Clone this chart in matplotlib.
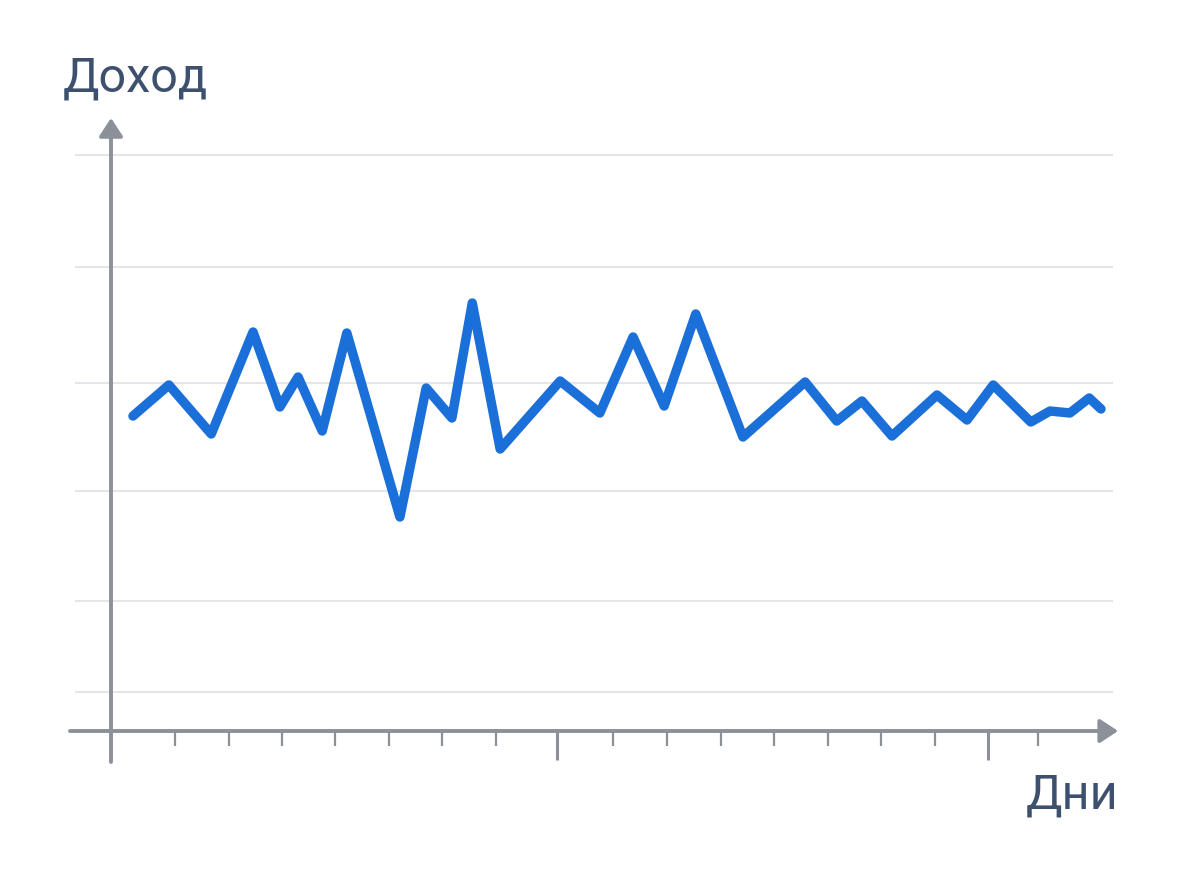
import matplotlib.pyplot as plt

# --- data: day (x) and income (y) ---
days = [0.41, 1.08, 1.87, 2.65, 3.15, 3.49, 3.94, 4.40, 5.39, 5.88, 6.36,
        6.74, 7.26, 8.38, 9.12, 9.74, 10.32, 10.91, 11.79, 12.95, 13.54,
        14.01, 14.57, 15.41, 15.97, 16.46, 17.16, 17.52, 17.89, 18.25, 18.47]
income = [31.5, 34.6, 29.7, 39.9, 32.4, 35.4, 30.0, 39.8, 21.4, 34.3, 31.3,
          42.8, 28.2, 35.0, 31.8, 39.4, 32.5, 41.7, 29.4, 34.9, 31.0,
          33.0, 29.5, 33.6, 31.1, 34.6, 30.9, 32.0, 31.8, 33.3, 32.2]

grid_levels = [3.9, 13.0, 24.0, 34.8, 46.4, 57.6]
minor_ticks = [1.19, 2.20, 3.19, 4.18, 5.19, 6.18, 7.18, 9.37, 10.37,
               11.38, 12.37, 13.38, 14.37, 15.37, 17.29]
major_ticks = [8.32, 16.36]

y_label = "Доход"
x_label = "Дни"

# --- style ---
axis_color = "#8b9099"
grid_color = "#e4e6ea"
line_color = "#1a6fd8"
text_color = "#3d516e"
font = "Roboto"

fig = plt.figure(figsize=(12, 8.71), dpi=100)
ax = fig.add_axes([0, 0, 1, 1])
ax.set_xlim(-2.071, 20.317)
ax.set_ylim(-14.0, 73.1)
ax.axis("off")

# grid lines
ax.hlines(grid_levels, -0.67, 18.69, color=grid_color, lw=1.5, zorder=1)

arrow = dict(arrowstyle="-|>,head_length=0.55,head_width=0.36",
             mutation_scale=20, color=axis_color, lw=2.8,
             shrinkA=0, shrinkB=0)
# x axis
ax.annotate("", xy=(18.79, 0), xytext=(-0.765, 0), arrowprops=arrow, zorder=2)
# y axis
ax.annotate("", xy=(0, 61.3), xytext=(0, -3.1), arrowprops=arrow, zorder=2)

# ticks
ax.vlines(minor_ticks, -1.5, 0, color=axis_color, lw=1.6, zorder=2)
ax.vlines(major_ticks, -2.9, 0, color=axis_color, lw=2.2, zorder=2)

# income line
ax.plot(days, income, color=line_color, lw=6.8, solid_joinstyle="round",
        solid_capstyle="round", zorder=3)

fig.text(0.0525, 0.8944, y_label, family=font, fontsize=35, color=text_color,
         ha="left", va="baseline")
fig.text(0.9317, 0.0723, x_label, family=font, fontsize=35, color=text_color,
         ha="right", va="baseline")

fig.savefig("out.png", dpi=100, facecolor="white")
